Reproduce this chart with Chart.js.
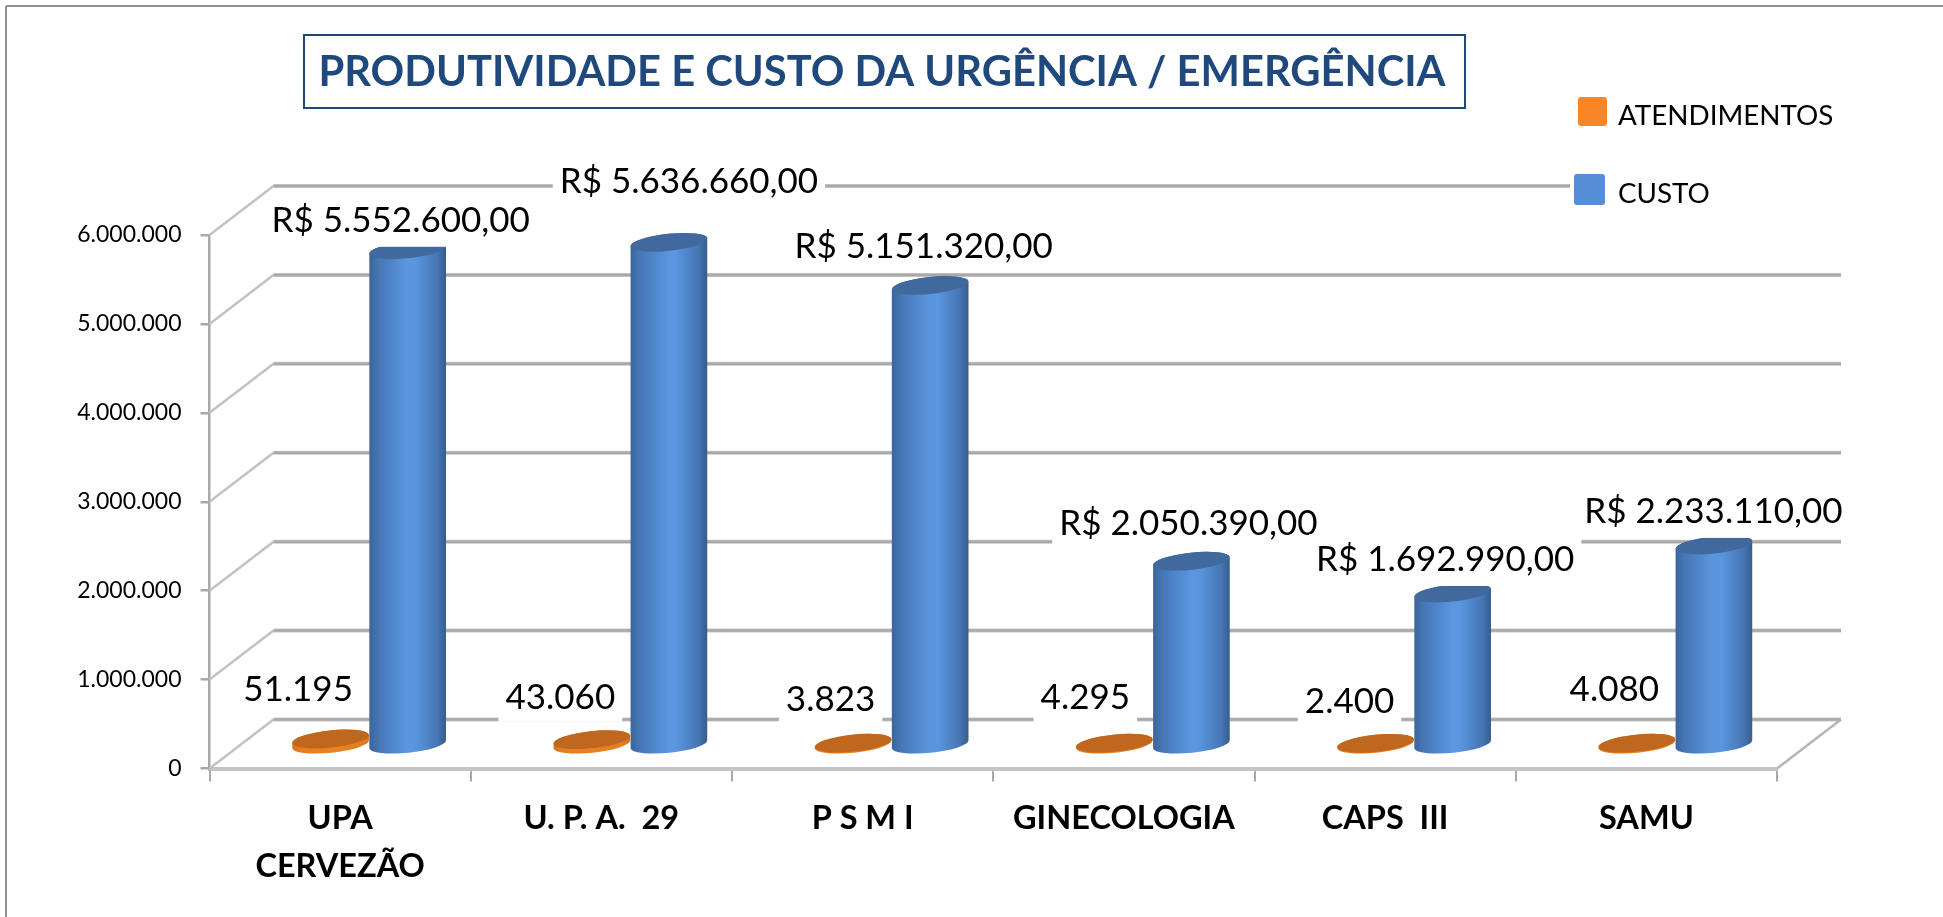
<!DOCTYPE html>
<html><head><meta charset="utf-8">
<style>html,body{margin:0;padding:0;background:#fff}canvas{display:block}</style>
<script src="https://cdn.jsdelivr.net/npm/chart.js@4"></script>
</head><body><canvas id="c" width="1943" height="917"></canvas>
<script>
const chartTitle = 'PRODUTIVIDADE E CUSTO DA URGÊNCIA / EMERGÊNCIA';
const categories = [['UPA','CERVEZÃO'],'U. P. A.  29','P S M I','GINECOLOGIA','CAPS  III','SAMU'];
const atendimentos = [51195,43060,3823,4295,2400,4080];
const custo = [5552600,5636660,5151320,2050390,1692990,2233110];
const yTicks = [0,1000000,2000000,3000000,4000000,5000000,6000000];
const custoLabels = ['R$ 5.552.600,00','R$ 5.636.660,00','R$ 5.151.320,00','R$ 2.050.390,00','R$ 1.692.990,00','R$ 2.233.110,00'];
const atendLabels = ['51.195','43.060','3.823','4.295','2.400','4.080'];
// label nudges relative to the mark top
const custoNudge = [[-7,-29],[20,-61],[-6.5,-39],[-3,-37],[-7.5,-33],[-0.5,-33]];
const atendNudge = [[-32.5,-49],[-31.5,-42],[-22.5,-43],[-29,-45],[-26,-42],[-22.5,-53]];

const FONT = 'Lato, Carlito, sans-serif';
const GRID = '#a9a9a9';
const DEPTH = {x:64, y:-49};      // wall offset of the 3D box
const BAR = {x:29, y:-25};        // bars stand mid-floor
const TILT = -6*Math.PI/180, RY = 8.5;

const stops = [0,.12,.5,.58,.88,1];
const body = {
  custo: ['#3b6599','#4676b5','#5b97e1','#5b97e1','#4677b5','#365c8e'],
  atend: ['#d9741c','#e57d22','#e88024','#e88024','#e57d22','#d9741c']
};
const capColor = {custo:'#41699e', atend:'#bf661f'};

// Cylinder drawing for each bar element, geometry from the bar scale
Chart.BarElement.prototype.draw = function(ctx){
  const {x,y,base,width} = this.getProps(['x','y','base','width'],true);
  const kind = this.options.backgroundColor === '#5b8fd9' ? 'custo' : 'atend';
  const cx = x+BAR.x, rx = width/2, top = y+BAR.y, bot = base+BAR.y+2;
  const g = ctx.createLinearGradient(cx-rx,0,cx+rx,0);
  body[kind].forEach((c,i)=>g.addColorStop(stops[i],c));
  ctx.save();
  ctx.beginPath();
  ctx.ellipse(cx,bot,rx,RY,TILT,Math.PI,0,true);
  ctx.ellipse(cx,top,rx,RY,TILT,0,Math.PI,true);
  ctx.closePath();
  ctx.fillStyle = g; ctx.fill();
  ctx.beginPath();
  ctx.ellipse(cx,top,rx,RY,TILT,0,2*Math.PI);
  ctx.fillStyle = capColor[kind]; ctx.fill();
  ctx.restore();
};

function line(ctx,x0,y0,x1,y1,c,w){ctx.beginPath();ctx.moveTo(x0,y0);ctx.lineTo(x1,y1);ctx.strokeStyle=c;ctx.lineWidth=w;ctx.stroke();}

const box3d = {
  id:'box3d',
  beforeDatasetsDraw(chart){
    const {ctx,scales:{y,x}} = chart;
    const L=x.left,R=x.right;
    ctx.save();
    yTicks.forEach(v=>{
      const py=y.getPixelForValue(v);
      line(ctx,L,py,L+DEPTH.x,py+DEPTH.y,'#c2c2c2',2.5);
      line(ctx,L+DEPTH.x,py+DEPTH.y,R+DEPTH.x,py+DEPTH.y,'#c9c9c9',4);
      line(ctx,L+DEPTH.x,py+DEPTH.y,R+DEPTH.x,py+DEPTH.y,GRID,2.5);
    });
    const f=y.getPixelForValue(0);
    line(ctx,R,f,R+DEPTH.x,f+DEPTH.y,'#b5b5b5',2.5);
    ctx.restore();
    // orange behind, blue in front
    chart.getDatasetMeta(0).controller.draw();
    chart.getDatasetMeta(1).controller.draw();
    return false;
  },
  afterDraw(chart){
    const {ctx} = chart;
    ctx.save();
    // legend cover
    ctx.fillStyle='#fff'; ctx.fillRect(1570,80,373,135);
    const lbl=(text,cx,cy,hh)=>{
      ctx.font='35px '+FONT; ctx.textAlign='center'; ctx.textBaseline='middle';
      const w=ctx.measureText(text).width;
      ctx.fillStyle='#fff'; ctx.fillRect(cx-w/2-7,cy-hh,w+14,hh*2);
      ctx.fillStyle='#000'; ctx.fillText(text,cx,cy);
    };
    const m0=chart.getDatasetMeta(0).data, m1=chart.getDatasetMeta(1).data;
    m1.forEach((b,i)=>lbl(custoLabels[i],b.x+BAR.x+custoNudge[i][0],b.y+BAR.y+custoNudge[i][1],26));
    m0.forEach((b,i)=>lbl(atendLabels[i],b.x+BAR.x+atendNudge[i][0],b.y+BAR.y+atendNudge[i][1],24));

    // title box
    ctx.strokeStyle='#1f497d'; ctx.lineWidth=2; ctx.strokeRect(304,35,1161,73);
    ctx.font='bold 41.7px '+FONT; ctx.fillStyle='#1f497d'; ctx.textAlign='center'; ctx.textBaseline='middle';
    ctx.fillText(chartTitle,882,73);

    // legend
    const sw=(x,y,s,c)=>{ctx.beginPath();ctx.roundRect(x,y,s,s,3);ctx.fillStyle=c;ctx.fill();};
    sw(1578,97,29,'#f98526'); sw(1574,174,31,'#558ed5');
    ctx.font='27.8px '+FONT; ctx.fillStyle='#000'; ctx.textAlign='left';
    ctx.fillText('ATENDIMENTOS',1618,116);
    ctx.fillText('CUSTO',1618,194);

    // outer frame
    line(ctx,6,6,1943,6,'#909090',2); line(ctx,6,6,6,917,'#909090',2);
    ctx.restore();
  }
};

new Chart(document.getElementById('c'),{
  type:'bar',
  data:{labels:categories,datasets:[
    {label:'ATENDIMENTOS',data:atendimentos,backgroundColor:'#f98526'},
    {label:'CUSTO',data:custo,backgroundColor:'#5b8fd9'}
  ]},
  plugins:[box3d],
  options:{
    responsive:false,animation:false,
    layout:{padding:{left:0,right:166,top:235,bottom:0}},
    datasets:{bar:{barPercentage:1,categoryPercentage:0.59}},
    plugins:{legend:{display:false},title:{display:false},tooltip:{enabled:false}},
    scales:{
      x:{
        afterFit(s){s.height=148.5;},
        grid:{drawOnChartArea:false,color:GRID,lineWidth:2,tickLength:13,offset:true},
        border:{color:'#c4c4c4',width:4},
        ticks:{color:'#000',font:{family:FONT,size:32.5,weight:'bold',lineHeight:1.48},padding:13,maxRotation:0,autoSkip:false}
      },
      y:{
        min:0,max:6000000,
        afterFit(s){s.width=209.5;},
        afterBuildTicks(s){s.ticks=yTicks.map(v=>({value:v}));},
        grid:{drawOnChartArea:false,color:GRID,lineWidth:2.5,tickLength:9},
        border:{color:GRID,width:2.5},
        ticks:{color:'#000',font:{family:FONT,size:23},padding:19,
          callback:v=>String(v).replace(/\B(?=(\d{3})+$)/g,'.')}
      }
    }
  }
});
</script></body></html>
